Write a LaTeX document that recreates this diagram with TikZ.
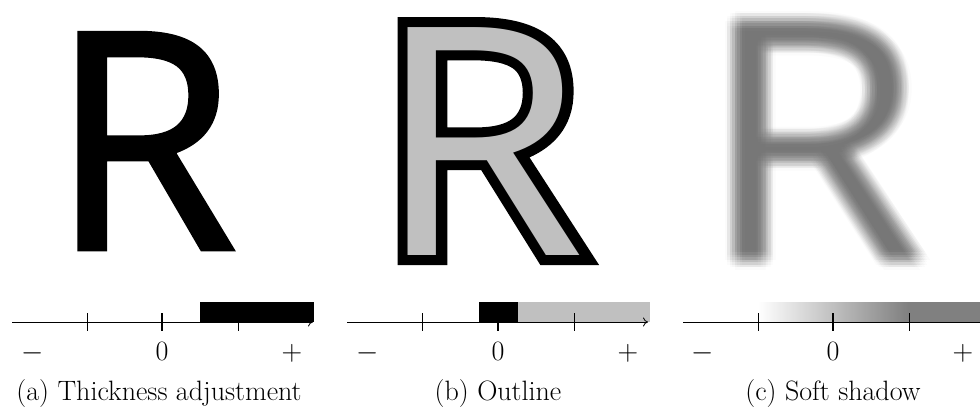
\documentclass[tikz,border=0pt]{standalone}
\usepackage{fontspec}
\usepackage{graphicx}
\newfontfamily\Rfont{Open Sans}
\usetikzlibrary{arrows.meta}
\definecolor{Rgray}{RGB}{192,192,192}
\definecolor{Sgray}{RGB}{128,128,128}
\begin{document}
\begin{tikzpicture}[x=1pt,y=-1pt,
  glyph/.style={inner sep=0pt, outer sep=0pt, anchor=base west},
  axisline/.style={line width=0.8pt, -{To[length=5pt,width=9pt]}},
  tickline/.style={line width=0.8pt},
  zerotick/.style={line width=1.7pt},
  lbl/.style={inner sep=0pt, anchor=base, font=\fontsize{28}{32}\selectfont},
]
\useasboundingbox (0,0) rectangle (980,415);

% ---------- panel (a): glyph thickened by a stroke
\node[glyph] (Ra) at (50,249) {\Rfont\fontsize{302.5}{303}\selectfont\special{pdf:literal direct 2 Tr 4.5 w 0 j 10 M 0 G}R\special{pdf:literal direct 0 Tr 0.4 w}};
\fill[black] (200,302) rectangle (314,322);
\coordinate (a0) at (12,322); \coordinate (a1) at (313,322);
\draw[axisline] (a0) -- (a1);
\draw[tickline] (87,313) -- (87,331);
\draw[zerotick] (162,313) -- (162,331);
\draw[tickline] (238,313) -- (238,331);
\node[lbl] (am) at (33,360) {\scalebox{1.15}{$-$}};
\node[lbl] (az) at (162,360) {0};
\node[lbl] (ap) at (292,360) {\scalebox{1.15}{$+$}};
\node[lbl] (capa) at (159,400) {(a) Thickness adjustment};

% ---------- panel (b)
\node[glyph] (Rbout) at (374.7,255) {\Rfont\fontsize{319.3}{320}\selectfont\scalebox{1.07}[1]{\special{pdf:literal direct 1 Tr 20 w 0 j 10 M 0 G}R\special{pdf:literal direct 0 Tr 0.4 w}}};
\node[glyph, text=Rgray] (Rb) at (374.7,255) {\Rfont\fontsize{319.3}{320}\selectfont\scalebox{1.07}[1]{R}};
\fill[black] (479,302) rectangle (518,322);
\fill[Rgray] (518,302) rectangle (650,322);
\coordinate (b0) at (347,322); \coordinate (b1) at (648,322);
\draw[axisline] (b0) -- (b1);
\draw[tickline] (422,313) -- (422,331);
\draw[zerotick] (498,313) -- (498,331);
\draw[tickline] (574,313) -- (574,331);
\node[lbl] (bm) at (368,360) {\scalebox{1.15}{$-$}};
\node[lbl] (bz) at (498,360) {0};
\node[lbl] (bp) at (628,360) {\scalebox{1.15}{$+$}};
\node[lbl] (capb) at (498,400) {(b) Outline};

% ---------- panel (c)
\foreach \dx in {-10,-7.5,...,10}{
  \foreach \dy in {-10,-7.5,...,10}{
    \pgfmathsetmacro\rr{\dx*\dx+\dy*\dy}
    \ifdim\rr pt<100.5pt
      \node[glyph, text=black, text opacity=0.01405] at (699+\dx,260+\dy) {\Rfont\fontsize{334.7}{335}\selectfont\scalebox{1.1}[1]{R}};
    \fi
  }
}
\shade[left color=white, right color=Sgray] (758,302) rectangle (908,322);
\fill[Sgray] (907.5,302) rectangle (985,322);
\coordinate (c0) at (683,322); \coordinate (c1) at (990,322);
\draw[axisline] (c0) -- (c1);
\draw[tickline] (758,313) -- (758,331);
\draw[zerotick] (833,313) -- (833,331);
\draw[tickline] (909,313) -- (909,331);
\node[lbl] (cm) at (703,360) {\scalebox{1.15}{$-$}};
\node[lbl] (cz) at (833,360) {0};
\node[lbl] (cp) at (963,360) {\scalebox{1.15}{$+$}};
\node[lbl] (capc) at (833,400) {(c) Soft shadow};
\end{tikzpicture}
\end{document}
